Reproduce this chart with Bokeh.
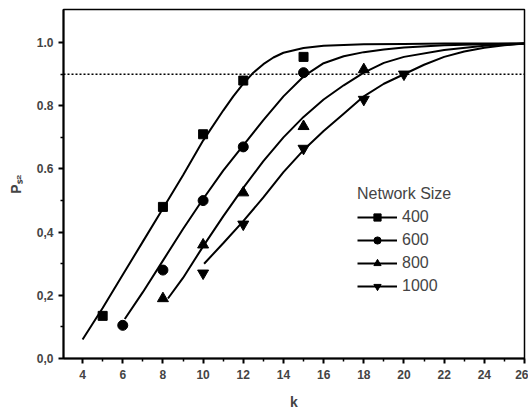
from bokeh.plotting import figure
from bokeh.models import FixedTicker, Legend, LegendItem, Span, Range1d
from bokeh.embed import file_html
from bokeh.resources import INLINE

# measured points
k_400 = [5, 8, 10, 12, 15]
p_400 = [0.135, 0.48, 0.71, 0.88, 0.955]
k_600 = [6, 8, 10, 12, 15]
p_600 = [0.105, 0.28, 0.50, 0.67, 0.905]
k_800 = [8, 10, 12, 15, 18]
p_800 = [0.19, 0.36, 0.525, 0.735, 0.915]
k_1000 = [10, 12, 15, 18, 20]
p_1000 = [0.27, 0.425, 0.665, 0.82, 0.90]

# fitted curves
fit_k_400 = [4, 5, 6, 7, 8, 9, 10, 11, 11.5, 12, 12.5, 13, 13.5, 14, 15, 16, 18, 20, 22, 24, 26]
fit_p_400 = [0.06, 0.16, 0.265, 0.37, 0.475, 0.58, 0.69, 0.785, 0.83, 0.87, 0.905, 0.932,
             0.953, 0.968, 0.983, 0.99, 0.995, 0.996, 0.997, 0.997, 0.997]
fit_k_600 = [6.1, 7, 8, 9, 10, 11, 12, 13, 14, 15, 16, 17, 18, 19, 20, 22, 24, 26]
fit_p_600 = [0.125, 0.21, 0.31, 0.41, 0.505, 0.595, 0.675, 0.755, 0.83, 0.893, 0.935,
             0.957, 0.97, 0.978, 0.985, 0.992, 0.995, 0.997]
fit_k_800 = [8.25, 9, 10, 11, 12, 13, 14, 15, 16, 17, 18, 19, 20, 22, 24, 26]
fit_p_800 = [0.19, 0.255, 0.355, 0.45, 0.54, 0.625, 0.70, 0.765, 0.82, 0.865, 0.905,
             0.936, 0.955, 0.977, 0.99, 0.997]
fit_k_1000 = [10.05, 11, 12, 13, 14, 15, 16, 17, 18, 19, 20, 21, 22, 23, 24, 25, 26]
fit_p_1000 = [0.30, 0.365, 0.435, 0.51, 0.59, 0.66, 0.72, 0.775, 0.83, 0.87, 0.90,
              0.93, 0.955, 0.972, 0.984, 0.992, 0.997]

threshold = 0.9
x_ticks = [4, 6, 8, 10, 12, 14, 16, 18, 20, 22, 24, 26]
x_minor = [5, 7, 9, 11, 13, 15, 17, 19, 21, 23, 25]
y_ticks = [0.0, 0.2, 0.4, 0.6, 0.8, 1.0]
y_labels = ["0,0", "0,2", "0,4", "0.6", "0.8", "1.0"]
y_minor = [0.1, 0.3, 0.5, 0.7, 0.9]
sizes = ["400", "600", "800", "1000"]

p = figure(width=528, height=412, output_backend="svg", toolbar_location=None,
           x_range=Range1d(3.05, 26), y_range=Range1d(0, 1.105),
           min_border_left=63, min_border_right=4, min_border_top=9, min_border_bottom=50)
p.xgrid.visible = False
p.ygrid.visible = False
p.outline_line_color = "black"
p.outline_line_width = 1.5
p.background_fill_color = "white"

p.add_layout(Span(location=threshold, dimension="width", line_color="black",
                  line_dash="2 2", line_width=1.5))

series = [
    (fit_k_400, fit_p_400, k_400, p_400, "square", 9),
    (fit_k_600, fit_p_600, k_600, p_600, "circle", 10),
    (fit_k_800, fit_p_800, k_800, p_800, "triangle", 11),
    (fit_k_1000, fit_p_1000, k_1000, p_1000, "inverted_triangle", 11),
]
items = []
for (fk, fp, kk, pp, mk, sz), lab in zip(series, sizes):
    lr = p.line(fk, fp, line_color="black", line_width=2)
    sr = p.scatter(kk, pp, marker=mk, size=sz, fill_color="black", line_color="black")
    items.append(LegendItem(label=lab, renderers=[lr, sr]))

legend = Legend(items=items, location=(294, 63), title="Network Size",
                title_text_font="Liberation Sans", title_text_font_size="16px",
                title_text_font_style="normal", title_standoff=5,
                label_text_font="Liberation Sans", label_text_font_size="16px",
                glyph_width=40, glyph_height=18, label_height=18, spacing=5,
                label_standoff=5, padding=0, margin=0,
                background_fill_alpha=0, border_line_alpha=0)
p.add_layout(legend)

for ax in (p.xaxis[0], p.yaxis[0]):
    ax.axis_line_width = 2
    ax.major_tick_line_width = 2
    ax.minor_tick_line_width = 1.5
    ax.major_tick_out = 5
    ax.major_tick_in = 0
    ax.minor_tick_out = 3
    ax.minor_tick_in = 0
    ax.major_label_text_font = "Liberation Sans"
    ax.major_label_text_font_style = "bold"
    ax.major_label_text_font_size = "12px"
    ax.axis_label_text_font = "Liberation Sans"
    ax.axis_label_text_font_style = "bold"
    ax.axis_label_text_font_size = "14px"

p.xaxis.ticker = FixedTicker(ticks=x_ticks, minor_ticks=x_minor)
p.yaxis.ticker = FixedTicker(ticks=y_ticks, minor_ticks=y_minor)
p.yaxis.major_label_overrides = {t: l for t, l in zip(y_ticks, y_labels)}
p.xaxis.major_label_standoff = 6
p.yaxis.major_label_standoff = 5
p.xaxis.axis_label = "k"
p.yaxis.axis_label = "P\u209b\u2082"
p.xaxis.axis_label_standoff = 12
p.yaxis.axis_label_standoff = 10

open("out.html", "w").write(file_html(p, INLINE))
